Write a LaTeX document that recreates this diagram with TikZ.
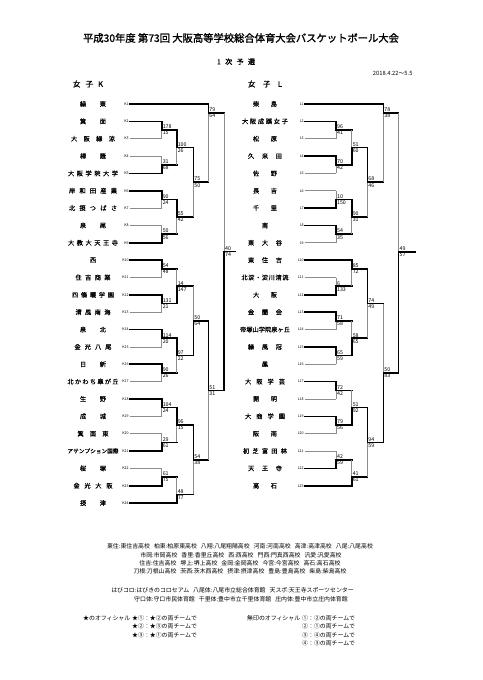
\documentclass[tikz,border=0pt]{standalone}
\usepackage{fontspec}
\usepackage{graphicx}
\setmainfont{Noto Sans CJK JP}
\newfontfamily\heavy{Noto Sans CJK JP}[FakeBold=1.5]
\newfontfamily\semi{Noto Sans CJK JP}[FakeBold=0.6]

% 文字を均等割りにする
\newsavebox\namebox
\def\sprloop#1{\ifx\relax#1\else\hfill#1\expandafter\sprloop\fi}
\def\sprfirst#1{#1\sprloop}
\newcommand\spread[2]{%
  \sbox\namebox{\expandafter\sprfirst#2\relax}%
  \ifdim\wd\namebox>#1\relax\resizebox{#1}{!}{\usebox\namebox}%
  \else\makebox[#1]{\expandafter\sprfirst#2\relax}\fi}
\newcommand\itemgap{\hspace{4pt}}

% 試合: 名前, x, y, 上, 下, 上の得点, 下の得点, 上の結果, 下の結果
\newcommand\game[9]{%
  \coordinate (#1) at (#2,#3);
  \draw[h #8] (#4) -- (#4 -| #1);
  \draw[v #8] (#4 -| #1) -- (#1);
  \draw[h #9] (#5) -- (#5 -| #1);
  \draw[v #9] (#5 -| #1) -- (#1);
  \node[score, anchor=south west] (#1u) at (#1) {#6};
  \node[score, anchor=north west] (#1l) at (#1) {#7};
}

\begin{document}
\begin{tikzpicture}[x=1pt, y=-1pt,
  won/.style={line width=1.6pt, line cap=rect},
  lost/.style={line width=0.7pt, black!45},
  h won/.style={won}, v won/.style={won},
  h first/.style={lost}, v first/.style={lost},
  h later/.style={won}, v later/.style={lost},
  score/.style={font=\fontsize{5.3}{5.3}\selectfont, inner sep=0.9pt},
  tag/.style={font=\fontsize{3.6}{4}\selectfont, inner sep=0.6pt, anchor=east},
  team/.style={font=\semi\fontsize{6.2}{7}\selectfont, inner sep=0pt},
  note/.style={font=\fontsize{5.9}{7}\selectfont, inner sep=0pt}]
  \useasboundingbox (0,0) rectangle (482,680);
  \fill[white] (0,0) rectangle (482,680);

  % 見出し
  \node[font=\heavy\fontsize{10.3}{12}\selectfont] (title) at (241,38)
    {平成30年度 第73回 大阪高等学校総合体育大会バスケットボール大会};
  \node[font=\heavy\fontsize{7}{8}\selectfont] (round) at (236,61.7) {\spread{38pt}{1次予選}};
  \node[font=\fontsize{5.8}{6}\selectfont, anchor=east] (date) at (416,73.3) {2018.4.22～5.5};
  \node[font=\heavy\fontsize{7.5}{8}\selectfont] (headK) at (88,84) {\spread{30pt}{女子K}};
  \node[font=\heavy\fontsize{7.5}{8}\selectfont] (headL) at (265,84) {\spread{34pt}{女子L}};

  % チーム
  \foreach \w/\n [count=\i] in {26/緑東,26/箕面,44/大阪緑涼,26/樟蔭,50/大阪学院大学,
      48/岸和田産業,48/北摂つばさ,26/泉尾,50/大教大天王寺,8/西,35/住吉商業,
      42/四條畷学園,35/清風南海,26/泉北,37/金光八尾,26/日新,51/北かわち皐が丘,
      26/生野,26/成城,31/箕面東,51/アサンプション国際,26/桜塚,39/金光大阪,26/摂津}
  {
    \node[tag] (K\i) at (129.5,{104+(\i-1)*17.35}) {K\i};
    \node[team] (nK\i) at (93,{104+(\i-1)*17.35}) {\spread{\w pt}{\n}};
  }
  \foreach \w/\n [count=\i] in {24/柴島,46/大阪成蹊女子,24/松原,34/久米田,24/佐野,
      24/長吉,24/千里,8/南,34/東大谷,34/東住吉,47/北淀・淀川清流,24/大阪,34/金蘭会,
      50/帝塚山学院泉ヶ丘,34/緑風冠,8/鳳,40/大阪学芸,24/開明,40/大商学園,24/阪南,
      44/初芝富田林,34/天王寺,24/高石}
  {
    \node[tag] (L\i) at (304.5,{104+(\i-1)*17.35}) {L\i};
    \node[team] (nL\i) at (265,{104+(\i-1)*17.35}) {\spread{\w pt}{\n}};
  }

  % 女子K
  \game{k23}{161.7}{130.0}{K2.east}{K3.east}{178}{15}{won}{first}
  \game{k45}{161.7}{164.7}{K4.east}{K5.east}{31}{68}{first}{won}
  \game{k67}{161.7}{199.4}{K6.east}{K7.east}{90}{24}{won}{first}
  \game{k89}{161.7}{234.1}{K8.east}{K9.east}{50}{56}{first}{won}
  \game{kA}{176.7}{147.4}{k23}{k45}{100}{26}{won}{later}
  \game{kB}{176.7}{216.8}{k67}{k89}{55}{42}{won}{later}
  \game{kC}{193.3}{182.1}{kA}{kB}{75}{50}{won}{later}
  \game{kD}{208.3}{112.7}{K1.east}{kC}{79}{64}{won}{later}
  \game{k1011}{161.7}{268.8}{K10.east}{K11.east}{54}{48}{won}{first}
  \game{k1213}{161.7}{303.5}{K12.east}{K13.east}{131}{21}{won}{first}
  \game{kE}{176.7}{286.2}{k1011}{k1213}{14}{147}{later}{won}
  \game{k1415}{161.7}{338.2}{K14.east}{K15.east}{114}{20}{won}{first}
  \game{k1617}{161.7}{372.9}{K16.east}{K17.east}{90}{26}{won}{first}
  \game{kF}{176.7}{355.6}{k1415}{k1617}{97}{22}{won}{later}
  \game{kG}{193.3}{320.9}{kE}{kF}{50}{64}{later}{won}
  \game{k1819}{161.7}{407.6}{K18.east}{K19.east}{104}{24}{won}{first}
  \game{k2021}{161.7}{442.3}{K20.east}{K21.east}{29}{61}{first}{won}
  \game{kH}{176.7}{425.0}{k1819}{k2021}{96}{15}{won}{later}
  \game{k2223}{161.7}{477.0}{K22.east}{K23.east}{61}{75}{first}{won}
  \game{kI}{176.7}{494.4}{k2223}{K24.east}{48}{77}{later}{won}
  \game{kJ}{193.3}{459.7}{kH}{kI}{54}{38}{won}{later}
  \game{kK}{208.3}{390.3}{kG}{kJ}{51}{31}{won}{later}
  \game{kL}{224.0}{251.5}{kD}{kK}{40}{74}{later}{won}
  \coordinate (kwin) at (235,251.5);
  \draw[won] (kL) -- (kwin);

  % 女子L
  \game{l23}{336.0}{130.0}{L2.east}{L3.east}{96}{41}{won}{first}
  \game{l45}{336.0}{164.7}{L4.east}{L5.east}{70}{42}{won}{first}
  \game{lA}{351.7}{147.4}{l23}{l45}{51}{60}{later}{won}
  \game{l67}{336.0}{199.4}{L6.east}{L7.east}{10}{150}{first}{won}
  \game{l89}{336.0}{234.1}{L8.east}{L9.east}{54}{35}{won}{first}
  \game{lB}{351.7}{216.8}{l67}{l89}{90}{31}{won}{later}
  \game{lC}{367.3}{182.1}{lA}{lB}{68}{46}{won}{later}
  \game{lD}{383.3}{112.7}{L1.east}{lC}{78}{38}{won}{later}
  \game{l1112}{336.0}{286.2}{L11.east}{L12.east}{6}{133}{first}{won}
  \game{lE}{351.7}{268.9}{L10.east}{l1112}{85}{72}{won}{later}
  \game{l1314}{336.0}{320.9}{L13.east}{L14.east}{71}{58}{won}{first}
  \game{l1516}{336.0}{355.6}{L15.east}{L16.east}{65}{59}{won}{first}
  \game{lF}{351.7}{338.2}{l1314}{l1516}{58}{65}{later}{won}
  \game{lG}{367.3}{303.6}{lE}{lF}{74}{49}{won}{later}
  \game{l1718}{336.0}{390.3}{L17.east}{L18.east}{72}{42}{won}{first}
  \game{l1920}{336.0}{425.0}{L19.east}{L20.east}{79}{56}{won}{first}
  \game{lH}{351.7}{407.6}{l1718}{l1920}{51}{92}{later}{won}
  \game{l2122}{336.0}{459.7}{L21.east}{L22.east}{42}{59}{first}{won}
  \game{lI}{351.7}{477.0}{l2122}{L23.east}{41}{61}{later}{won}
  \game{lJ}{367.3}{442.3}{lH}{lI}{94}{59}{won}{later}
  \game{lK}{383.3}{373.0}{lG}{lJ}{50}{83}{later}{won}
  \game{lL}{398.5}{252.0}{lD}{lK}{49}{57}{later}{won}
  \coordinate (lwin) at (415,252.0);
  \draw[won] (lL) -- (lwin);

  % 会場
  \node[note] (v1) at (240,546.7) {東住:東住吉高校\itemgap 柏東:柏原東高校\itemgap 八翔:八尾翔陽高校\itemgap 河南:河南高校\itemgap 高津:高津高校\itemgap 八尾:八尾高校};
  \node[note] (v2) at (241,555) {市岡:市岡高校\itemgap 香里:香里丘高校\itemgap 西:西高校\itemgap 門西:門真西高校\itemgap 汎愛:汎愛高校};
  \node[note] (v3) at (240,563.3) {住吉:住吉高校\itemgap 堺上:堺上高校\itemgap 金岡:金岡高校\itemgap 今宮:今宮高校\itemgap 高石:高石高校};
  \node[note] (v4) at (240,571.7) {刀根:刀根山高校\itemgap 茨西:茨木西高校\itemgap 摂津:摂津高校\itemgap 豊島:豊島高校\itemgap 柴島:柴島高校};
  \node[note] (h1) at (232.5,590) {はびコロ:はびきのコロセアム\itemgap 八尾体:八尾市立総合体育館\itemgap 天スポ:天王寺スポーツセンター};
  \node[note] (h2) at (241,599) {守口体:守口市民体育館\itemgap 千里体:豊中市立千里体育館\itemgap 庄内体:豊中市立庄内体育館};

  % オフィシャル
  \node[note, anchor=west] (o0) at (83,618.3) {★のオフィシャル};
  \node[note, anchor=west] (o1) at (132,618.3) {★①：★②の両チームで};
  \node[note, anchor=west] (o2) at (132,626.7) {★②：★③の両チームで};
  \node[note, anchor=west] (o3) at (132,635) {★③：★①の両チームで};
  \node[note, anchor=west] (p0) at (247,618.3) {無印のオフィシャル};
  \node[note, anchor=west] (p1) at (302,618.3) {①：②の両チームで};
  \node[note, anchor=west] (p2) at (302,626.7) {②：①の両チームで};
  \node[note, anchor=west] (p3) at (302,635) {③：④の両チームで};
  \node[note, anchor=west] (p4) at (302,643.3) {④：③の両チームで};
\end{tikzpicture}
\end{document}
